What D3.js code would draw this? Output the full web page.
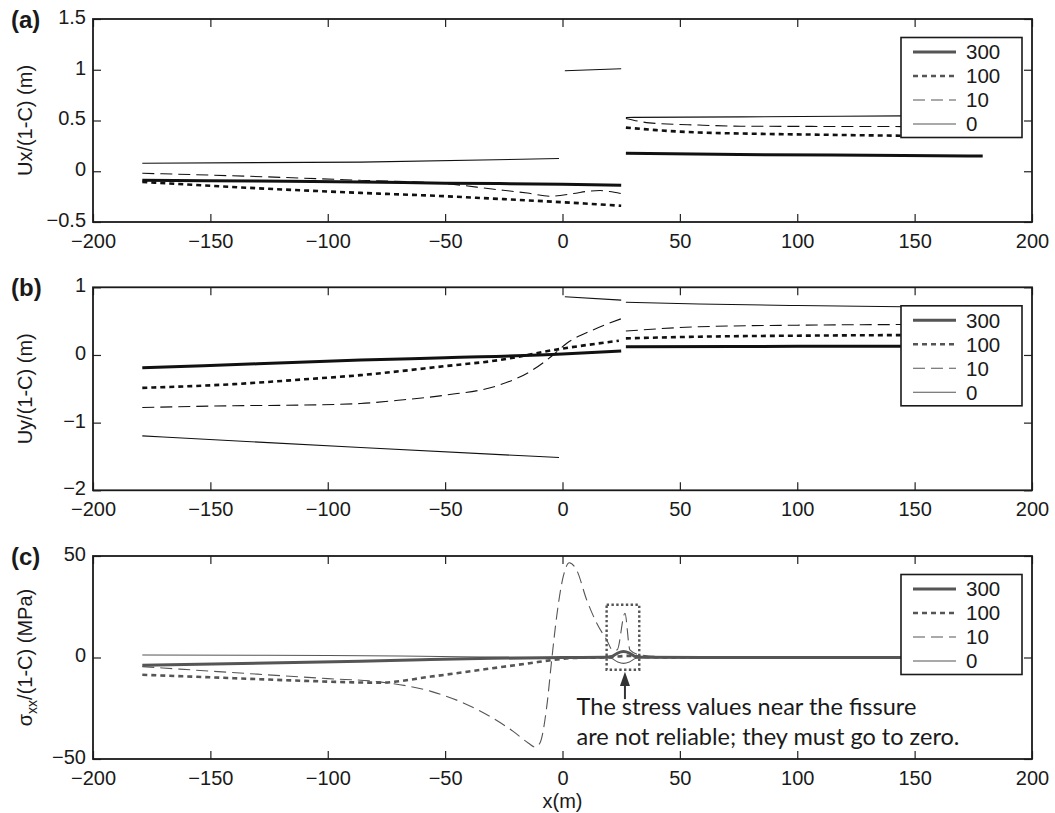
<!DOCTYPE html>
<html>
<head>
<meta charset="utf-8">
<script src="https://cdn.jsdelivr.net/npm/d3@7"></script>
<style>
body { margin: 0; background: #fff; }
svg text { font-family: "Liberation Sans", Arial, sans-serif; fill: #1a1a1a; }
</style>
</head>
<body>
<script>
// legend labels, one per curve
var seriesNames = ["300", "100", "10", "0"];

// shared x ticks
var xTicks = [-200, -150, -100, -50, 0, 50, 100, 150, 200];

// (a) Ux/(1-C) (m) -- null marks the break at the fissure
var ux300 = [[-179,-0.089],[-130,-0.097],[-86,-0.105],[-50,-0.118],[0,-0.127],[25,-0.138],null,
             [27,0.178],[75,0.165],[145,0.156],[179,0.15]];
var ux100 = [[-179,-0.105],[-133,-0.164],[-86,-0.213],[-50,-0.246],[-25,-0.275],[0,-0.305],[25,-0.34],null,
             [27,0.43],[40,0.405],[58,0.382],[76,0.372],[110,0.36],[145,0.35],[179,0.345]];
var ux10  = [[-179,-0.02],[-133,-0.05],[-86,-0.089],[-50,-0.122],[-30,-0.175],[-15,-0.215],[-5,-0.246],
             [4.6,-0.22],[11.7,-0.195],[16,-0.19],[20,-0.2],[25,-0.22],null,
             [27,0.52],[37,0.477],[58,0.455],[76,0.444],[145,0.44],[179,0.438]];
var ux0   = [[-179,0.079],[-86,0.09],[-1.5,0.125],null,[1,0.99],[25,1.01],null,
             [27,0.53],[76,0.536],[145,0.546],[179,0.55]];
var uxTicks = [-0.5, 0, 0.5, 1, 1.5];

// (b) Uy/(1-C) (m)
var uy300 = [[-179,-0.19],[-130,-0.13],[-86,-0.076],[-50,-0.04],[0,0.013],[25,0.057],null,
             [27,0.12],[100,0.128],[179,0.13]];
var uy100 = [[-179,-0.486],[-140,-0.431],[-110,-0.36],[-86,-0.298],[-50,-0.165],[-27,-0.076],[-4,0.072],[24,0.21],null,
             [27,0.245],[58,0.27],[100,0.285],[145,0.294],[179,0.298]];
var uy10  = [[-179,-0.776],[-140,-0.75],[-110,-0.74],[-86,-0.717],[-70,-0.67],[-50,-0.594],[-27,-0.446],[-14,-0.249],
             [-4,0.0],[1.7,0.17],[13,0.37],[25,0.535],null,
             [27,0.353],[58,0.417],[100,0.44],[145,0.45],[179,0.455]];
var uy0   = [[-179,-1.196],[-86,-1.368],[-1.5,-1.516],null,[1,0.86],[25,0.81],null,
             [27,0.78],[58,0.753],[100,0.73],[145,0.713],[179,0.70]];
var uyTicks = [-2, -1, 0, 1];

// (c) sigma_xx/(1-C) (MPa)
var sxx300 = [[-179,-3.8],[-120,-2.6],[-86,-1.8],[-60,-1.1],[-30,-0.4],[0,0],[18,0.1],[21,0.5],
              [23.5,2.2],[26,2.9],[28.5,2.2],[31,0.5],[34,0.1],[60,0],[179,0]];
var sxx100 = [[-179,-8.5],[-140,-10.2],[-110,-11.5],[-78,-12.4],[-56,-9.4],[-35,-6.1],[-14,-2.8],[-4,-1.2],
              [5,-0.2],[18,0],[28,0.8],[34,0.3],[45,0],[179,0]];
var sxx10  = [[-179,-4.5],[-130,-8.2],[-100,-10.4],[-78,-12.0],[-56,-16.7],[-42,-22.5],[-31,-29],[-21,-36.4],
              [-14.6,-42.1],[-11.7,-44.1],[-9.6,-42.1],[-6.7,-24.1],[-4.6,-1.2],[-2.5,20.1],[0.3,39.8],
              [2.9,46.7],[6,43.1],[10.3,28.4],[14.6,16.9],[18.8,8.7],[21.5,3.5],[23.3,3.8],[26.6,21.8],
              [28.7,3.8],[33,1.3],[45,0.3],[179,0]];
var sxx0   = [[-179,1.2],[-100,1.0],[-60,0.6],[-20,0.1],[0,0],[18,0],[21,-0.5],[23.5,-2.2],[26,-2.9],
              [28.5,-2.2],[31,-0.5],[34,0],[179,0]];
var sxxTicks = [-50, 0, 50];

var noteLines = ["The stress values near the fissure", "are not reliable; they must go to zero."];

// line look per curve
var styles = {
  "300": {w: 3,   dash: null},
  "100": {w: 2.6, dash: "5,4"},
  "10":  {w: 1.1, dash: "12,6"},
  "0":   {w: 1.1, dash: null}
};

var W = 1055, H = 813;
var left = 93, right = 1032, plotH = 203;

var svg = d3.select("body").append("svg")
  .attr("width", W).attr("height", H);

var x = d3.scaleLinear().domain([-200, 200]).range([left, right]);

function drawPanel(p) {
  var top = p.top, bottom = top + plotH;
  var y = d3.scaleLinear().domain(p.yDomain).range([bottom, top]);
  var g = svg.append("g");

  // curves, thin first so the thick one sits on top
  var line = d3.line().defined(function(d) { return d; })
    .x(function(d) { return x(d[0]); })
    .y(function(d) { return y(d[1]); })
    .curve(d3.curveMonotoneX);

  for (var i = p.series.length - 1; i >= 0; i--) {
    var st = styles[seriesNames[i]];
    g.append("path")
      .attr("d", line(p.series[i]))
      .attr("fill", "none")
      .attr("stroke", p.color)
      .attr("stroke-width", st.w)
      .attr("stroke-dasharray", st.dash);
  }

  if (p.extra) p.extra(g, y);

  // axes, ticks pointing inwards on all four sides
  var fmt = d3.format("");
  function tidy(a) {
    a.select(".domain").remove();
    a.selectAll(".tick line").attr("stroke", "#222").attr("stroke-width", 1.2);
    a.attr("font-size", 20).attr("font-family", "Liberation Sans, Arial, sans-serif");
    a.selectAll("text").attr("fill", "#1a1a1a");
  }
  g.append("g").attr("transform", "translate(0," + bottom + ")")
    .call(d3.axisBottom(x).tickValues(xTicks).tickSize(-8).tickPadding(12).tickFormat(fmt)).call(tidy);
  g.append("g").attr("transform", "translate(0," + top + ")")
    .call(d3.axisTop(x).tickValues(xTicks).tickSize(-8).tickFormat("")).call(tidy);
  g.append("g").attr("transform", "translate(" + left + ",0)")
    .call(d3.axisLeft(y).tickValues(p.yTicks).tickSize(-8).tickPadding(7).tickFormat(fmt)).call(tidy)
    .selectAll("text").attr("dy", "0.22em");
  g.append("g").attr("transform", "translate(" + right + ",0)")
    .call(d3.axisRight(y).tickValues(p.yTicks).tickSize(-8).tickFormat("")).call(tidy);

  g.append("rect")
    .attr("x", left).attr("y", top)
    .attr("width", right - left).attr("height", plotH)
    .attr("fill", "none").attr("stroke", "#1a1a1a").attr("stroke-width", 1.8);

  // legend
  var lg = g.append("g").attr("transform", "translate(901," + (top + 18.5) + ")");
  lg.append("rect").attr("width", 121).attr("height", 100)
    .attr("fill", "#fff").attr("stroke", "#1a1a1a").attr("stroke-width", 1.6);
  seriesNames.forEach(function(name, k) {
    var yy = 14.5 + k * 24;
    lg.append("line").attr("x1", 12).attr("x2", 55).attr("y1", yy).attr("y2", yy)
      .attr("stroke", "#555").attr("stroke-width", styles[name].w)
      .attr("stroke-dasharray", styles[name].dash);
    lg.append("text").attr("x", 65).attr("y", yy).attr("dy", "0.36em")
      .attr("font-size", 20.5).text(name);
  });

  // panel letter
  svg.append("text").attr("x", 11).attr("y", top + 8.5)
    .attr("font-size", 24).attr("font-weight", "bold").text(p.label);

  // y label
  var yl = svg.append("text")
    .attr("transform", "translate(32," + (top + plotH / 2) + ") rotate(-90)")
    .attr("text-anchor", "middle").attr("font-size", 20);
  p.ylab(yl);
}

drawPanel({
  top: 19, yDomain: [-0.5, 1.5], yTicks: uxTicks, label: "(a)", color: "#111",
  series: [ux300, ux100, ux10, ux0],
  ylab: function(t) { t.text("Ux/(1-C) (m)"); }
});

drawPanel({
  top: 287.3, yDomain: [-2, 1], yTicks: uyTicks, label: "(b)", color: "#111",
  series: [uy300, uy100, uy10, uy0],
  ylab: function(t) { t.text("Uy/(1-C) (m)"); }
});

drawPanel({
  top: 556, yDomain: [-50, 50], yTicks: sxxTicks, label: "(c)", color: "#555",
  series: [sxx300, sxx100, sxx10, sxx0],
  ylab: function(t) {
    t.append("tspan").text("\u03c3");
    t.append("tspan").attr("font-size", 14).attr("dy", 5).text("xx");
    t.append("tspan").attr("dy", -5).text("/(1-C) (MPa)");
  },
  extra: function(g, y) {
    // dotted box round the fissure
    g.append("rect")
      .attr("x", x(18.8)).attr("y", y(26))
      .attr("width", x(32.7) - x(18.8)).attr("height", y(-6) - y(26))
      .attr("fill", "none").attr("stroke", "#555")
      .attr("stroke-width", 2.4).attr("stroke-dasharray", "2.4,2.4");
    // arrow
    var ax = x(26.6);
    g.append("line").attr("x1", ax).attr("x2", ax)
      .attr("y1", y(-20.5)).attr("y2", y(-12))
      .attr("stroke", "#333").attr("stroke-width", 2);
    g.append("path")
      .attr("d", "M" + ax + "," + y(-7) + "L" + (ax - 5) + "," + y(-14) + "L" + (ax + 5) + "," + y(-14) + "Z")
      .attr("fill", "#333");
    // note text, sized to the width it has in the figure
    var note = g.append("g");
    var t1 = note.append("text").attr("x", x(6)).attr("y", y(-28.2))
      .attr("font-size", 22).style("font-family", "Lato, 'Open Sans', sans-serif").text(noteLines[0]);
    var w1 = t1.node().getComputedTextLength();
    var fs = 22 * 340 / w1;
    t1.attr("font-size", fs);
    note.append("text").attr("x", x(6)).attr("y", y(-43))
      .attr("font-size", fs).style("font-family", "Lato, 'Open Sans', sans-serif").text(noteLines[1]);
  }
});

// x label under the last panel
svg.append("text")
  .attr("x", (left + right) / 2).attr("y", 808)
  .attr("text-anchor", "middle").attr("font-size", 20)
  .text("x(m)");
</script>
</body>
</html>
